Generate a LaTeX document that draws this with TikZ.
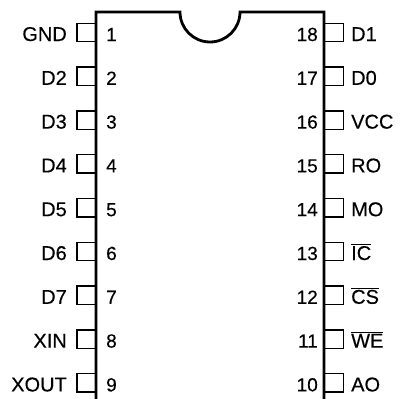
\documentclass[tikz,border=0pt]{standalone}
\usepackage{fontspec}
\setmainfont{Liberation Sans}
\newfontfamily\pinfont{Liberation Sans}[FakeBold=0.35]
\newcommand{\ovl}[1]{$\overline{\hbox{#1}}$}
\tikzset{
  body/.style={line width=2.8pt,line cap=butt,line join=miter,black},
  stub/.style={line width=1.5pt,black},
  pinname/.style={font=\pinfont\fontsize{20}{22}\selectfont,inner sep=0pt,black},
  pinnum/.style={font=\pinfont\fontsize{19}{21}\selectfont,inner sep=0pt,black}
}
\begin{document}
\begin{tikzpicture}[x=1pt,y=-1pt]
\useasboundingbox (0,0) rectangle (400,399);
\draw[body] (96,399) -- (96,12) -- (180,12) arc[start angle=180,end angle=360,radius=30,y radius=-30] -- (324,12) -- (324,399);
\foreach \i/\n in {1/GND,2/D2,3/D3,4/D4,5/D5,6/D6,7/D7,8/XIN,9/XOUT}{
  \pgfmathsetmacro{\yy}{32.5+(\i-1)*43.8}
  \pgfmathsetmacro{\ya}{\yy-9.2}
  \pgfmathsetmacro{\yb}{\yy+9.2}
  \draw[stub] (95.5,\ya) -- (77,\ya) -- (77,\yb) -- (95.5,\yb);
  \node[pinname,anchor=base east] (L\i) at (67,\yy+8.5) {\n};
  \node[pinnum,anchor=base west] (N\i) at (106,\yy+8.5) {\i};
}
\foreach \i/\n in {18/D1,17/D0,16/VCC,15/RO,14/MO,13/\ovl{IC},12/\ovl{CS},11/\ovl{WE},10/AO}{
  \pgfmathsetmacro{\yy}{32.5+(18-\i)*43.8}
  \pgfmathsetmacro{\ya}{\yy-9.2}
  \pgfmathsetmacro{\yb}{\yy+9.2}
  \draw[stub] (324.5,\ya) -- (343.5,\ya) -- (343.5,\yb) -- (324.5,\yb);
  \node[pinname,anchor=base west] (R\i) at (351,\yy+8.5) {\n};
  \node[pinnum,anchor=base east] (M\i) at (318,\yy+8.5) {\i};
}
\end{tikzpicture}
\end{document}
